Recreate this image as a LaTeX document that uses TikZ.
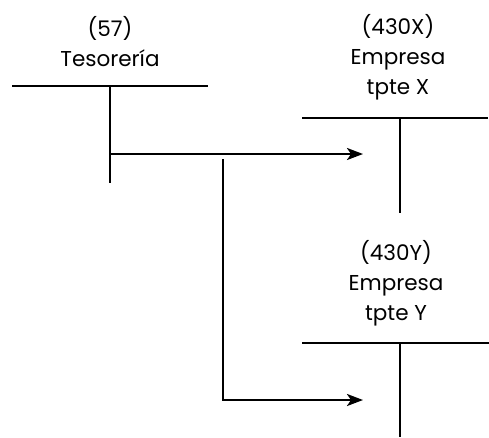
\documentclass[tikz,border=0pt]{standalone}
\usepackage{fontspec}
\setmainfont{Poppins}
\usetikzlibrary{arrows.meta}
\begin{document}
\begin{tikzpicture}[x=1pt,y=-1pt,
    cuenta/.style={align=center,font=\fontsize{21.5}{30}\selectfont,inner sep=0pt},
    tline/.style={line width=2.4pt},
    flecha/.style={line width=2.4pt,-{Stealth[length=16pt,width=12pt,inset=4pt]}}]
  \useasboundingbox (0,0) rectangle (489,437);
  % titulos de las cuentas
  \node[cuenta] (tes) at (110,42) {(57)\\Tesorería};
  \node[cuenta] (ctaX) at (398,57) {(430X)\\Empresa\\tpte X};
  \node[cuenta] (ctaY) at (396,283) {(430Y)\\Empresa\\tpte Y};
  % puntos de las T
  \coordinate (tesL) at (12,86);
  \coordinate (tesR) at (208,86);
  \coordinate (tesT) at (110,86);
  \coordinate (tesB) at (110,183);
  \coordinate (xL) at (302,118);
  \coordinate (xR) at (488,118);
  \coordinate (xT) at (400,118);
  \coordinate (xB) at (400,213);
  \coordinate (yL) at (302,343);
  \coordinate (yR) at (489,343);
  \coordinate (yT) at (400,343);
  \coordinate (yB) at (400,437);
  \draw[tline] (tesL) -- (tesR) (tesT) -- (tesB);
  \draw[tline] (xL) -- (xR) (xT) -- (xB);
  \draw[tline] (yL) -- (yR) (yT) -- (yB);
  % movimientos
  \coordinate (sal1) at (110,154);
  \coordinate (ent1) at (363,154);
  \coordinate (sal2) at (223,159);
  \coordinate (ent2) at (363,400);
  \draw[flecha] (sal1) -- (ent1);
  \draw[flecha] (sal2) |- (ent2);
\end{tikzpicture}
\end{document}
